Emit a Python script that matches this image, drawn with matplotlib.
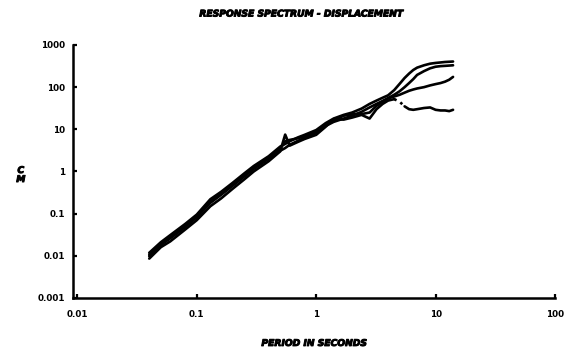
import numpy as np
import matplotlib.pyplot as plt
import matplotlib.patheffects as pe

# periods (s) shared by all four records
period = [0.04, 0.05, 0.06, 0.08, 0.10, 0.13, 0.16, 0.20, 0.25, 0.30,
          0.40, 0.50, 0.55, 0.60, 0.70, 0.80, 1.0, 1.2, 1.4, 1.7,
          2.0, 2.4, 2.8, 3.2, 3.6, 4.0, 4.5, 5.0, 5.5, 6.0,
          6.5, 7.0, 8.0, 9.0, 10.0, 11.0, 12.0, 13.0, 14.0]

# spectral displacement (cm)
sd_a = [0.0118, 0.021, 0.031, 0.057, 0.095, 0.22, 0.33, 0.54, 0.90, 1.35,
        2.3, 3.9, 4.5, 5.2, 6.4, 7.4, 9.6, 14, 18, 22,
        25, 31, 40, 48, 56, 64, 85, 120, 165, 210,
        255, 290, 330, 360, 375, 385, 395, 400, 405]
sd_b = [0.0098, 0.018, 0.026, 0.048, 0.082, 0.18, 0.28, 0.46, 0.76, 1.15,
        2.0, 3.1, 3.6, 4.3, 5.3, 6.2, 8.2, 12, 15, 18,
        21, 26, 33, 40, 47, 55, 66, 80, 100, 125,
        155, 195, 240, 280, 305, 315, 320, 325, 330]
sd_c = [0.0106, 0.019, 0.028, 0.052, 0.088, 0.20, 0.30, 0.50, 0.82, 1.25,
        2.15, 3.5, 5.2, 5.6, 6.1, 6.8, 8.7, 13, 16.5, 21,
        23, 23, 25, 36, 45, 54, 60, 66, 74, 82,
        88, 93, 100, 110, 118, 125, 135, 150, 175]
sd_d = [0.0086, 0.0160, 0.022, 0.042, 0.070, 0.15, 0.23, 0.39, 0.65, 1.0,
        1.75, 3.0, 7.5, 4.1, 5.0, 5.9, 7.4, 11.5, 17.5, 17,
        19, 22, 18, 30, 40, 48, 52, 45, 35, 30,
        29, 30, 32, 33, 29, 28, 28, 27, 29]

xticks = [0.01, 0.1, 1, 10, 100]
xtick_labels = ['0.01', '0.1', '1', '10', '100']
yticks = [0.001, 0.01, 0.1, 1, 10, 100, 1000]
ytick_labels = ['0.001', '0.01', '0.1', '1', '10', '100', '1000']

fig = plt.figure(figsize=(5.79, 3.5), dpi=100)
ax = fig.add_axes([0.1261, 0.1486, 0.8325, 0.7229])

lw = 1.9
for sd in (sd_a, sd_b, sd_c):
    ax.plot(period, sd, 'k-', lw=lw, solid_capstyle='round',
            solid_joinstyle='round')

# last record: the steep drop after 4.5 s plots as a dotted trace
i0 = period.index(4.5)
i1 = period.index(5.5)
ax.plot(period[:i0 + 1], sd_d[:i0 + 1], 'k-', lw=lw, solid_capstyle='round')
ax.plot(period[i0:i1 + 1], sd_d[i0:i1 + 1], 'k:', lw=lw)
ax.plot(period[i1:], sd_d[i1:], 'k-', lw=lw, solid_capstyle='round')

ax.set_xscale('log')
ax.set_yscale('log')
ax.set_xlim(0.0092, 100)
ax.set_ylim(0.001, 1000)

ax.spines['top'].set_visible(False)
ax.spines['right'].set_visible(False)
for side in ('left', 'bottom'):
    ax.spines[side].set_linewidth(1.8)
    ax.spines[side].set_color('k')

tick_font = dict(family='DejaVu Sans', weight='bold', size=6.3)
ax.set_xticks(xticks)
ax.set_xticklabels(xtick_labels, fontdict=tick_font)
ax.set_yticks(yticks)
ax.set_yticklabels(ytick_labels, fontdict=tick_font)
ax.minorticks_off()
ax.tick_params(direction='in', length=3, width=1.6, color='k')
ax.tick_params(axis='x', pad=9)
ax.tick_params(axis='y', pad=6)

# heavy plotter-style lettering for the titles
thick = [pe.withStroke(linewidth=0.7, foreground='k')]
lab_font = dict(family='DejaVu Sans', weight='bold', style='italic', size=6.6)
ax.set_xlabel('PERIOD IN SECONDS', fontdict=lab_font, labelpad=14)
ax.xaxis.label.set_path_effects(thick)
fig.text(0.036, 0.50, 'C\nM', ha='center', va='center',
         linespacing=1.0, path_effects=thick, **lab_font)
fig.text(0.52, 0.96, 'RESPONSE SPECTRUM - DISPLACEMENT', ha='center',
         va='center', path_effects=thick, **lab_font)

fig.savefig('out.png', dpi=100)
